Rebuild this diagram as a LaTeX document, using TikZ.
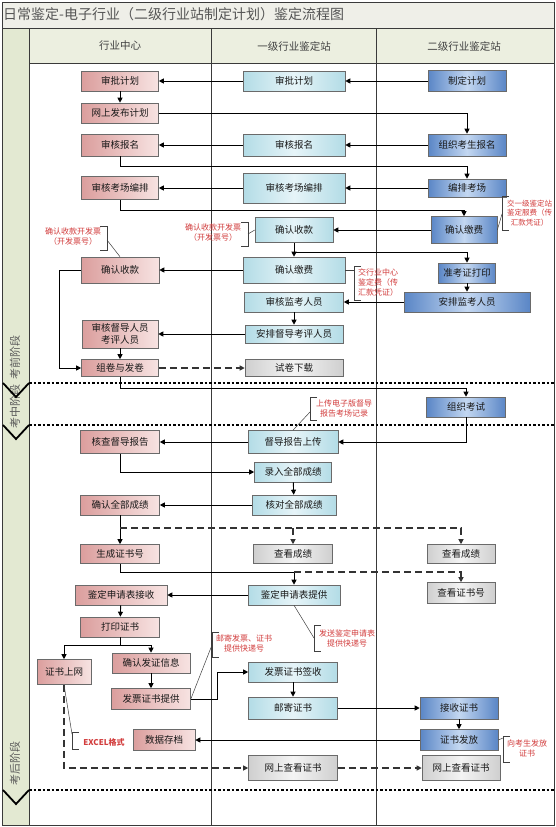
\documentclass[tikz,border=0pt]{standalone}
\usepackage{fontspec}
\setmainfont{Noto Sans CJK SC}
\usetikzlibrary{arrows.meta}
\definecolor{titlebg}{HTML}{EFEFE8}
\definecolor{hdrbg}{HTML}{ECEFE0}
\definecolor{phasebg}{HTML}{E3E9D2}
\definecolor{framec}{HTML}{3A3A3A}
\definecolor{pinkL}{HTML}{DB9E9D}
\definecolor{pinkR}{HTML}{F7E3E2}
\definecolor{cyanE}{HTML}{B3DCE6}
\definecolor{cyanM}{HTML}{E6F4F8}
\definecolor{blueE}{HTML}{5A86C6}
\definecolor{blueM}{HTML}{C3D7F1}
\definecolor{grayE}{HTML}{CFCFCF}
\definecolor{grayM}{HTML}{F4F4F4}
\definecolor{noteRed}{HTML}{D23C3C}
\definecolor{boxline}{HTML}{6A6A6A}
\definecolor{titlegray}{HTML}{555555}
\newcommand{\bxf}{\fontsize{9.5}{12}\selectfont}
\newcommand{\ntf}{\fontsize{8}{10}\selectfont}
\newcommand{\lbrk}[3]{\draw[leadln] (#1+7,#2) -- (#1,#2) -- (#1,#3) -- (#1+7,#3);}
\newcommand{\rbrk}[3]{\draw[leadln] (#1-7,#2) -- (#1,#2) -- (#1,#3) -- (#1-7,#3);}
\tikzset{
  anybox/.style={draw=boxline, line width=0.6pt, inner sep=1pt, font=\bxf, text=black!90, align=center},
  pbox/.style={anybox, left color=pinkL, right color=pinkR},
  cbox/.style={anybox, left color=cyanE, right color=cyanE, middle color=cyanM},
  bbox/.style={anybox, left color=blueE, right color=blueE, middle color=blueM},
  gbox/.style={anybox, left color=grayE, right color=grayE, middle color=grayM},
  arrw/.style={line width=0.9pt, -{Triangle[length=5pt,width=5pt]}},
  lnw/.style={line width=0.9pt},
  dshd/.style={line width=1.1pt, dash pattern=on 7pt off 4pt, draw=black!80},
  dsharr/.style={dshd, -{Triangle[length=5pt,width=5pt]}},
  anno/.style={text=noteRed, font=\ntf, align=center, inner sep=0pt},
  leadln/.style={line width=0.5pt, draw=black!75},
  phline/.style={line width=1.6pt, dash pattern=on 2.5pt off 2pt},
  framel/.style={line width=0.9pt, draw=framec},
  chev/.style={line width=1.8pt, line join=miter},
  hdr/.style={font=\fontsize{10.5}{12}\selectfont, text=black!75},
  phlabel/.style={font=\fontsize{11}{12}\selectfont, text=black!65, rotate=90}
}
\begin{document}
\begin{tikzpicture}[x=1pt,y=-1pt]
\useasboundingbox (0,0) rectangle (556,827);
\fill[white] (0,0) rectangle (556,827);
\fill[titlebg] (2,2) rectangle (554,28);
\fill[hdrbg] (29,28) rectangle (554,63);
\fill[phasebg] (2,28) rectangle (29,825);
\draw[framel] (2,2) rectangle (554,825);
\draw[framel] (2,28) -- (554,28);
\draw[framel] (29,63) -- (554,63);
\draw[framel] (29,28) -- (29,825);
\draw[framel] (211,28) -- (211,825);
\draw[framel] (376,28) -- (376,825);

\node[anchor=west, text=titlegray, font=\fontsize{14}{16}\selectfont, inner sep=0pt] (title) at (3,14) {日常鉴定-电子行业（二级行业站制定计划）鉴定流程图};
\node[hdr] (h1) at (120,46) {行业中心};
\node[hdr] (h2) at (294,46) {一级行业鉴定站};
\node[hdr] (h3) at (464,46) {二级行业鉴定站};

\node[phlabel] (p1) at (15,357) {考前阶段};
\node[phlabel] (p2) at (15,406) {考中阶段};
\node[phlabel] (p3) at (15,763) {考后阶段};

\draw[phline] (29,383) -- (554,383);
\draw[phline] (29,425) -- (554,425);
\draw[phline] (29,790) -- (554,790);
\draw[chev] (3,383) -- (16,397) -- (29,383);
\draw[chev] (3,425) -- (16,439) -- (29,425);
\draw[chev] (3,790) -- (16,804) -- (29,790);

% ---- nodes
\node[pbox, minimum width=77pt, minimum height=20pt] (a1) at (120,81) {审批计划};
\node[cbox, minimum width=102pt, minimum height=20pt] (b1) at (294,81) {审批计划};
\node[bbox, minimum width=78pt, minimum height=21pt] (c1) at (467,81) {制定计划};
\node[pbox, minimum width=77pt, minimum height=20pt] (a2) at (120,113) {网上发布计划};
\node[pbox, minimum width=77pt, minimum height=22pt] (a3) at (120,145) {审核报名};
\node[cbox, minimum width=102pt, minimum height=22pt] (b3) at (294,145) {审核报名};
\node[bbox, minimum width=78pt, minimum height=22pt] (c3) at (467,145) {组织考生报名};
\node[pbox, minimum width=77pt, minimum height=23pt] (a4) at (120,188) {审核考场编排};
\node[cbox, minimum width=102pt, minimum height=30pt] (b4) at (294,188) {审核考场编排};
\node[bbox, minimum width=78pt, minimum height=18pt] (c4) at (467,188) {编排考场};
\node[cbox, minimum width=78pt, minimum height=25pt] (b5) at (294,230) {确认收款};
\node[bbox, minimum width=66pt, minimum height=27pt] (c5) at (464,230) {确认缴费};
\node[cbox, minimum width=102pt, minimum height=26pt] (b6) at (294,270) {确认缴费};
\node[pbox, minimum width=78pt, minimum height=26pt] (a6) at (120,270) {确认收款};
\node[bbox, minimum width=57pt, minimum height=20pt] (c6) at (467,273) {准考证打印};
\node[cbox, minimum width=99pt, minimum height=20pt] (b7) at (294,302) {审核监考人员};
\node[bbox, minimum width=126pt, minimum height=20pt] (c7) at (467,302) {安排监考人员};
\node[cbox, minimum width=98pt, minimum height=18pt] (b8) at (294,334) {安排督导考评人员};
\node[pbox, minimum width=76pt, minimum height=28pt] (a8) at (120,334) {审核督导人员\\考评人员};
\node[pbox, minimum width=77pt, minimum height=17pt] (a9) at (120,368) {组卷与发卷};
\node[gbox, minimum width=98pt, minimum height=17pt] (b9) at (294,368) {试卷下载};
\node[bbox, minimum width=79pt, minimum height=20pt] (c10) at (466,407) {组织考试};
\node[pbox, minimum width=79pt, minimum height=23pt] (a11) at (120,442) {核查督导报告};
\node[cbox, minimum width=90pt, minimum height=23pt] (b11) at (293,442) {督导报告上传};
\node[cbox, minimum width=77pt, minimum height=20pt] (b12) at (293,472) {录入全部成绩};
\node[cbox, minimum width=84pt, minimum height=20pt] (b13) at (294,505) {核对全部成绩};
\node[pbox, minimum width=79pt, minimum height=20pt] (a13) at (120,505) {确认全部成绩};
\node[pbox, minimum width=79pt, minimum height=19pt] (a14) at (120,554) {生成证书号};
\node[gbox, minimum width=79pt, minimum height=19pt] (b14) at (293,554) {查看成绩};
\node[gbox, minimum width=68pt, minimum height=19pt] (c14) at (461,554) {查看成绩};
\node[pbox, minimum width=92pt, minimum height=20pt] (a15) at (121,595) {鉴定申请表接收};
\node[cbox, minimum width=92pt, minimum height=20pt] (b15) at (294,595) {鉴定申请表提供};
\node[gbox, minimum width=68pt, minimum height=21pt] (c15) at (461,593) {查看证书号};
\node[pbox, minimum width=79pt, minimum height=20pt] (a16) at (120,627) {打印证书};
\node[pbox, minimum width=54pt, minimum height=25pt] (a17a) at (64,672) {证书上网};
\node[pbox, minimum width=78pt, minimum height=20pt] (a17b) at (151,663) {确认发证信息};
\node[cbox, minimum width=89pt, minimum height=20pt] (b17) at (293,672) {发票证书签收};
\node[pbox, minimum width=79pt, minimum height=21pt] (a18) at (151,699) {发票证书提供};
\node[cbox, minimum width=89pt, minimum height=22pt] (b18) at (293,708) {邮寄证书};
\node[bbox, minimum width=78pt, minimum height=22pt] (c18) at (459,708) {接收证书};
\node[pbox, minimum width=62pt, minimum height=21pt] (a19) at (164,740) {数据存档};
\node[bbox, minimum width=78pt, minimum height=21pt] (c19) at (459,740) {证书发放};
\node[gbox, minimum width=89pt, minimum height=25pt] (b20) at (293,768) {网上查看证书};
\node[gbox, minimum width=78pt, minimum height=25pt] (c20) at (461,768) {网上查看证书};

% ---- connectors
\draw[arrw] (c1) -- (b1);
\draw[arrw] (b1) -- (a1);
\draw[arrw] (a1) -- (a2);
\draw[arrw] (a2.east) -| (c3.north);
\draw[arrw] (c3) -- (b3);
\draw[arrw] (b3) -- (a3);
\draw[arrw] (a3.south) -- (a3.south |- 0,166) -| (c4.north);
\draw[arrw] (c4) -- (b4);
\draw[arrw] (b4) -- (a4);
\draw[arrw] (a4.south) -- (a4.south |- 0,210) -| (c5.north);
\draw[arrw] (c5) -- (b5);
\draw[arrw] (b5) -- (b6);
\draw[arrw] (b5.south |- 0,252) -| (c6.north);
\draw[arrw] (b6) -- (a6);
\draw[arrw] (c6) -- (c7);
\draw[arrw] (c7) -- (b7);
\draw[arrw] (b7) -- (b8);
\draw[arrw] (b8) -- (a8);
\draw[arrw] (a8) -- (a9);
\draw[dsharr] (a9) -- (b9);
\draw[arrw] (a6.west) -- (a6.west -| 59,0) |- (a9.west);
\draw[arrw] (a9.south) -- (a9.south |- 0,388) -| (c10.north);
\draw[arrw] (c10.south) |- (b11.east);
\draw[arrw] (b11) -- (a11);
\draw[arrw] (a11.south) |- (b12.west);
\draw[arrw] (b12) -- (b13);
\draw[arrw] (b13) -- (a13);
\draw[arrw] (a13) -- (a14);
\draw[dsharr] (a13.south |- 0,528) -| (c14.north);
\draw[dsharr] (b14.north |- 0,528) -- (b14.north);
\draw[arrw] (a14.south) -- (a14.south |- 0,572) -| (b15.north);
\draw[dsharr] (b15.north |- 0,572) -| (c15.north);
\draw[arrw] (b15) -- (a15);
\draw[arrw] (a15) -- (a16);
\draw[lnw] (a16.south) -- (a16.south |- 0,645);
\draw[arrw] (a16.south |- 0,645) -| (a17a.north);
\draw[arrw] (a16.south |- 0,645) -| (a17b.north);
\draw[arrw] (a17b) -- (a18);
\draw[arrw] (a18.east) -- (a18.east -| 217,0) |- (b17.west);
\draw[arrw] (b17) -- (b18);
\draw[arrw] (b18) -- (c18);
\draw[arrw] (c18) -- (c19);
\draw[arrw] (c19) -- (a19);
\draw[dsharr] (a17a.south) |- (b20.west);
\draw[dsharr] (b20) -- (c20);

% ---- annotations
\node[anno] (n1) at (73,237) {确认收款开发票\\（开发票号）};
\rbrk{107}{226}{250}
\coordinate (k1) at (107,240);
\draw[leadln] (k1) -- (a6.north);

\node[anno] (n2) at (213,233) {确认收款开发票\\（开发票号）};
\rbrk{248}{222}{246}
\coordinate (k2) at (248,234);
\draw[leadln] (k2) -- (b5.west);

\node[anno, anchor=west, font=\fontsize{7.5}{9.5}\selectfont] (n3) at (507,213) {交一级鉴定站\\鉴定服费（传\\汇款凭证）};
\lbrk{502}{196}{230}
\coordinate (k3) at (502,214);
\draw[leadln] (k3) -- (c5.east);

\node[anno] (n4) at (378,282) {交行业中心\\鉴定费（传\\汇款凭证）};
\lbrk{354}{266}{300}
\coordinate (k4) at (354,270);
\draw[leadln] (k4) -- (b6.east);

\node[anno] (n5) at (344,408) {上传电子版督导\\报告考场记录};
\lbrk{310}{397}{420}
\coordinate (k5) at (310,412);
\draw[leadln] (k5) -- (b11.north);

\node[anno] (n6) at (347,638) {发送鉴定申请表\\提供快递号};
\lbrk{314}{625}{651}
\coordinate (k6) at (314,638);
\draw[leadln] (b15.south) -- (k6);

\node[anno] (n7) at (244,643) {邮寄发票、证书\\提供快递号};
\lbrk{212}{632}{657}
\coordinate (k7) at (212,645);
\draw[leadln] (k7) -- (a18.east);

\node[anno, font=\bfseries\ntf] (n8) at (104,742) {EXCEL格式};
\lbrk{72}{732}{749}
\coordinate (k8) at (72,734);
\draw[leadln] (a17a.south) -- (k8);

\node[anno] (n9) at (527,748) {向考生发放\\证书};
\lbrk{503}{736}{762}
\coordinate (k9) at (503,738);
\draw[leadln] (k9) -- (c19.east);
\end{tikzpicture}
\end{document}
